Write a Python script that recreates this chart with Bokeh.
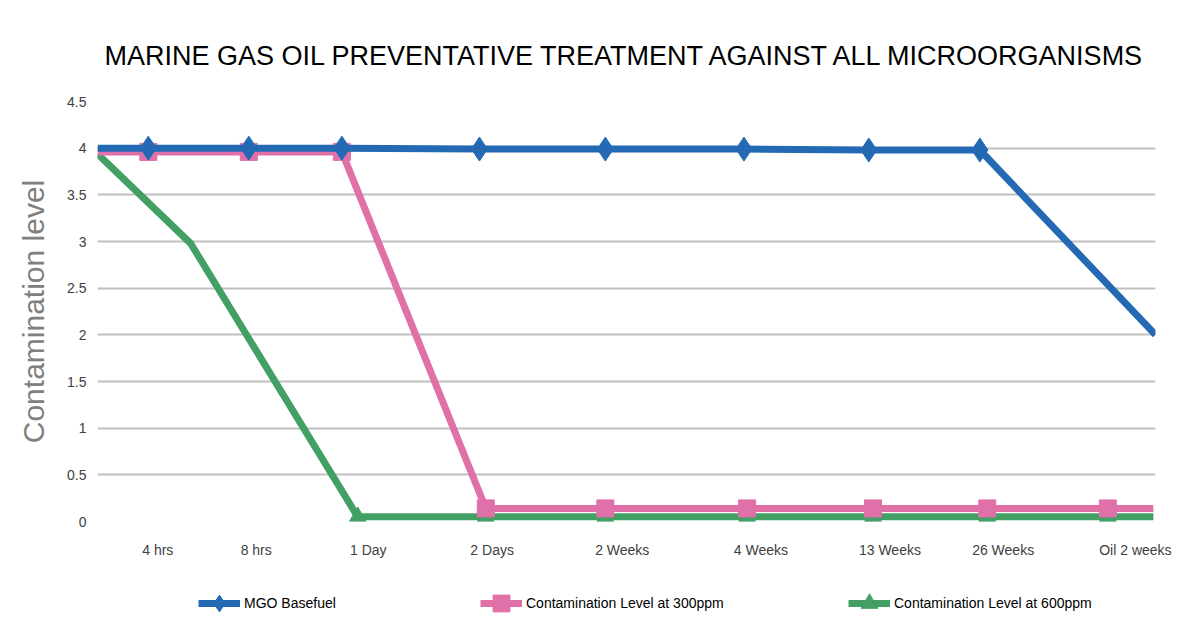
from bokeh.plotting import figure
from bokeh.layouts import column
from bokeh.models import FixedTicker, Legend, LegendItem
from bokeh.embed import file_html
from bokeh.resources import INLINE

# ---- data (x positions, in a 0..10 position scale) ----
categories = ["4 hrs", "8 hrs", "1 Day", "2 Days", "2 Weeks", "4 Weeks",
              "13 Weeks", "26 Weeks", "Oil 2 weeks"]
category_pos = [0.57, 1.50, 2.56, 3.73, 4.96, 6.27, 7.49, 8.56, 9.81]

base_x = [0.0, 0.48, 1.43, 2.31, 3.61, 4.80, 6.11, 7.29, 8.34, 10.0]
base_y = [4.00, 4.00, 4.00, 4.00, 3.99, 3.99, 3.99, 3.98, 3.98, 2.00]
base_marked = [False, True, True, True, True, True, True, True, True, False]

ppm300_x = [0.0, 0.48, 1.43, 2.31, 3.67, 4.80, 6.14, 7.33, 8.41, 9.55, 9.98]
ppm300_y = [3.96, 3.96, 3.96, 3.96, 0.14, 0.14, 0.14, 0.14, 0.14, 0.14, 0.14]
ppm300_marked = [False, True, True, True, True, True, True, True, True, True, False]

ppm600_x = [0.0, 0.88, 2.46, 3.67, 4.80, 6.14, 7.33, 8.41, 9.55, 9.98]
ppm600_y = [3.94, 2.98, 0.05, 0.05, 0.05, 0.05, 0.05, 0.05, 0.05, 0.05]
ppm600_marked = [False, False, True, True, True, True, True, True, True, False]

y_ticks = [0, 0.5, 1, 1.5, 2, 2.5, 3, 3.5, 4, 4.5]
y_tick_labels = ["0", "0.5", "1", "1.5", "2", "2.5", "3", "3.5", "4", "4.5"]

series_names = ["MGO Basefuel", "Contamination Level at 300ppm",
                "Contamination Level at 600ppm"]

BLUE = "#2369b3"
PINK = "#e070a8"
GREEN = "#42a064"
FONT = "Liberation Sans"

p = figure(width=1184, height=575, x_range=(0, 10), y_range=(0, 4.5),
           output_backend="svg", toolbar_location=None,
           min_border_left=97, min_border_right=29,
           min_border_top=101, min_border_bottom=54)

p.title.text = "MARINE GAS OIL PREVENTATIVE TREATMENT AGAINST ALL MICROORGANISMS"
p.title.align = "center"
p.title.text_font = FONT
p.title.text_font_size = "27px"
p.title.text_font_style = "normal"
p.title.text_color = "#000000"
p.title.standoff = 62

p.outline_line_color = None
p.background_fill_color = "white"
p.border_fill_color = "white"

# axes
p.xaxis.ticker = FixedTicker(ticks=category_pos)
p.xaxis.major_label_overrides = {pos: lab for pos, lab in zip(category_pos, categories)}
p.xaxis.axis_line_color = None
p.xaxis.major_tick_line_color = None
p.xaxis.minor_tick_line_color = None
p.xaxis.major_label_standoff = 14
p.xaxis.major_label_text_font = FONT
p.xaxis.major_label_text_font_size = "14px"
p.xaxis.major_label_text_color = "#404040"

p.yaxis.ticker = FixedTicker(ticks=y_ticks)
p.yaxis.major_label_overrides = {t: l for t, l in zip(y_ticks, y_tick_labels)}
p.yaxis.axis_line_color = None
p.yaxis.major_tick_line_color = None
p.yaxis.minor_tick_line_color = None
p.yaxis.major_label_standoff = 5
p.yaxis.major_label_text_font = FONT
p.yaxis.major_label_text_font_size = "14px"
p.yaxis.major_label_text_color = "#404040"
p.yaxis.axis_label = "Contamination level"
p.yaxis.axis_label_text_font = FONT
p.yaxis.axis_label_text_font_size = "30px"
p.yaxis.axis_label_text_font_style = "normal"
p.yaxis.axis_label_text_color = "#808080"
p.yaxis.axis_label_standoff = 14

p.xgrid.grid_line_color = None
p.ygrid.ticker = FixedTicker(ticks=y_ticks)
p.ygrid.grid_line_color = "#c0c0c0"
p.ygrid.grid_line_width = 2

def sel(xs, ys, flags):
    return ([x for x, f in zip(xs, flags) if f], [y for y, f in zip(ys, flags) if f])

styles = [
    dict(color=BLUE, marker="diamond", size=24),
    dict(color=PINK, marker="square", size=17),
    dict(color=GREEN, marker="triangle", size=17),
]
series = [(base_x, base_y, base_marked),
          (ppm300_x, ppm300_y, ppm300_marked),
          (ppm600_x, ppm600_y, ppm600_marked)]

drawn = []
for (xs, ys, flags), st in zip(series, styles):
    ln = p.line(xs, ys, line_color=st["color"], line_width=7, line_join="round")
    mx, my = sel(xs, ys, flags)
    sc = p.scatter(mx, my, marker=st["marker"], size=st["size"],
                   fill_color=st["color"], line_color=st["color"])
    drawn.append((ln, sc))

# blue on top as in the reference
p.renderers = [drawn[2][0], drawn[2][1], drawn[1][0], drawn[1][1], drawn[0][0], drawn[0][1]]

# ---- legend strip (separate figure below the chart; the series are plotted
#      there out of view so the legend has real glyphs to draw) ----
lf = figure(width=1184, height=50, x_range=(0, 10), y_range=(100, 101),
            output_backend="svg", toolbar_location=None,
            min_border_left=0, min_border_right=0, min_border_top=0, min_border_bottom=0,
            x_axis_location=None, y_axis_location=None)
lf.grid.visible = False
lf.outline_line_color = None
lf.background_fill_color = "white"
lf.border_fill_color = "white"

legend_x = [101, 383, 751]   # offsets from the left edge of the plotting area
for name, (xs, ys, flags), st, lx in zip(series_names, series, styles, legend_x):
    ln = lf.line(xs, ys, line_color=st["color"], line_width=7)
    mx, my = sel(xs, ys, flags)
    sc = lf.scatter(mx, my, marker=st["marker"], size=st["size"],
                    fill_color=st["color"], line_color=st["color"])
    lg = Legend(items=[LegendItem(label=name, renderers=[ln, sc])],
                location=(lx, 0), orientation="horizontal",
                glyph_width=42, glyph_height=44, label_height=20,
                label_standoff=4, padding=0, margin=0, spacing=0,
                border_line_color=None, background_fill_alpha=0,
                label_text_font=FONT, label_text_font_size="14px",
                label_text_color="#000000")
    lf.add_layout(lg, "center")

open("out.html", "w").write(file_html(column(p, lf, spacing=0), INLINE))
